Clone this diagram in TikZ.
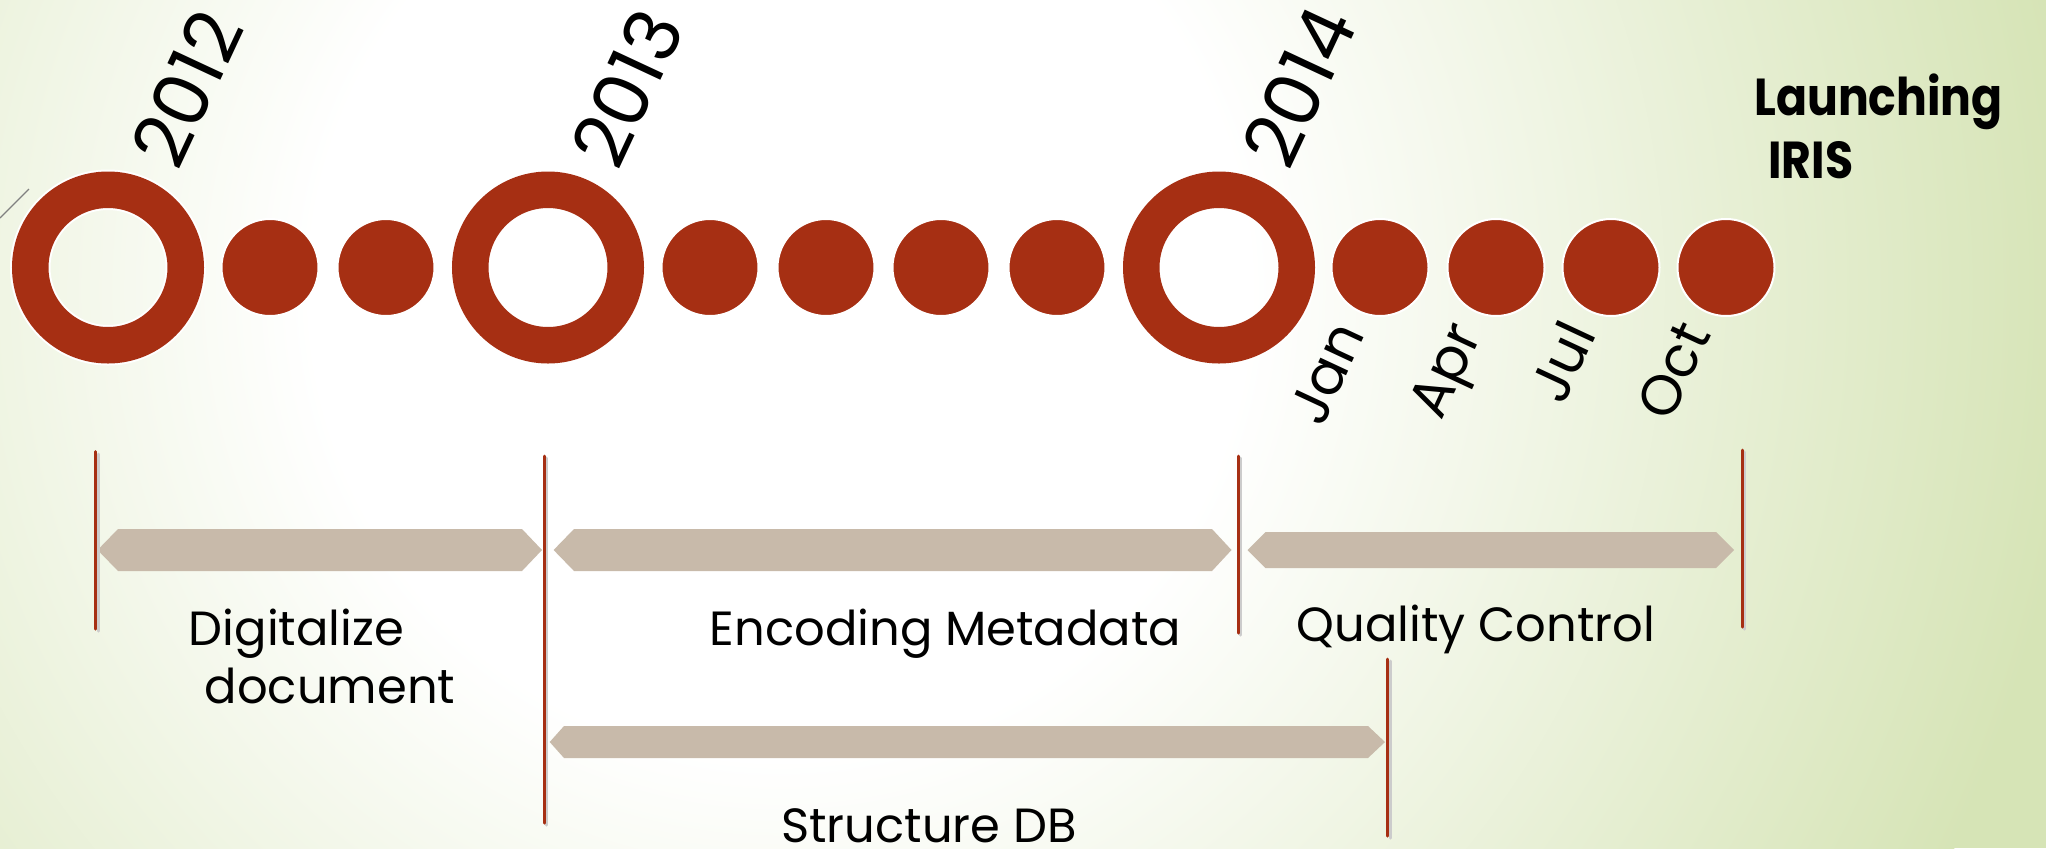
\documentclass[tikz,border=0pt]{standalone}
\usepackage{fontspec}
\setmainfont{Poppins}
\definecolor{ringred}{RGB}{166,47,19}
\definecolor{barcol}{RGB}{200,186,170}
\definecolor{bggreen}{RGB}{214,228,182}
\pgfdeclareradialshading{bgshade}{\pgfpoint{0bp}{0bp}}{color(0bp)=(white); color(9bp)=(white); color(25bp)=(bggreen); color(50bp)=(bggreen)}
\begin{document}
\begin{tikzpicture}[x=0.5pt,y=-0.5pt,
  bigring/.style={circle, draw=white, line width=1pt, double=ringred, double distance=18.25pt, minimum size=77.75pt, inner sep=0pt},
  dot/.style={circle, fill=ringred, draw=white, line width=1pt, minimum size=48.5pt, inner sep=0pt},
  yearlbl/.style={rotate=65, anchor=base west, inner sep=0pt, font=\fontsize{38pt}{44pt}\selectfont},
  monthlbl/.style={rotate=65, anchor=base east, inner sep=0pt, font=\fontsize{28pt}{33pt}\selectfont},
  launch/.style={anchor=base west, inner sep=0pt, xscale=0.88, font=\bfseries\fontsize{26pt}{31pt}\selectfont},
  phase/.style={anchor=base, inner sep=0pt, font=\fontsize{24pt}{29pt}\selectfont},
  vline/.style={draw=ringred, line width=1.5pt, line cap=round},
  vshadow/.style={draw=black!20, line width=1.5pt, line cap=round},
  bar/.style={fill=barcol},
]
\useasboundingbox (0,0) rectangle (2046,848);
\fill[bggreen] (0,0) rectangle (2046,848);
\begin{scope}
\clip (0,0) rectangle (2046,848);
\shade[shading=bgshade] (780,290) circle (650pt);
\end{scope}
\draw[gray, line width=0.6pt] (0,218) -- (29,189);

% timeline circles
\node[bigring] (c1) at (108,267.5) {};
\node[dot] (c2) at (270,267.5) {};
\node[dot] (c3) at (386,267.5) {};
\node[bigring] (c4) at (548,267.5) {};
\node[dot] (c5) at (710,267.5) {};
\node[dot] (c6) at (826,267.5) {};
\node[dot] (c7) at (941,267.5) {};
\node[dot] (c8) at (1057,267.5) {};
\node[bigring] (c9) at (1219,267.5) {};
\node[dot] (c10) at (1380,267.5) {};
\node[dot] (c11) at (1496,267.5) {};
\node[dot] (c12) at (1611,267.5) {};
\node[dot] (c13) at (1726,267.5) {};

% year labels
\node[yearlbl] (y12) at (178,173) {2012};
\node[yearlbl] (y13) at (618,173) {2013};
\node[yearlbl] (y14) at (1289,173) {2014};

% month labels
\node[monthlbl] (mjan) at (1366,334) {Jan};
\node[monthlbl] (mapr) at (1482,334) {Apr};
\node[monthlbl] (mjul) at (1597,334) {Jul};
\node[monthlbl] (moct) at (1712,334) {Oct};

% launching
\node[launch] (la1) at (1754,115) {Launching};
\node[launch] (la2) at (1768,178) {IRIS};

% phase bars
\fill[bar] (97.6,550) -- (118,529) -- (522,529) -- (542,550) -- (522,571) -- (118,571) -- cycle;
\fill[bar] (553.6,550) -- (574,529) -- (1212,529) -- (1231.5,550) -- (1212,571) -- (574,571) -- cycle;
\fill[bar] (1247.5,550) -- (1265.5,532) -- (1716,532) -- (1734,550) -- (1716,568) -- (1265.5,568) -- cycle;
\fill[bar] (549.7,742) -- (564,726) -- (1368,726) -- (1385,742) -- (1368,758) -- (564,758) -- cycle;

% vertical markers
\draw[vshadow] (98,454) -- (98,631);
\draw[vshadow] (546,458) -- (546,825);
\draw[vshadow] (1240,458) -- (1240,635);
\draw[vshadow] (1744,452) -- (1744,629);
\draw[vshadow] (1390,661) -- (1390,838);
\draw[vline] (95.7,451.7) -- (95.7,629);
\draw[vline] (544,456) -- (544,823);
\draw[vline] (1238,456) -- (1238,633);
\draw[vline] (1742,450) -- (1742,627);
\draw[vline] (1387.6,659) -- (1387.6,836);

% phase labels
\node[phase] (p1a) at (296.5,645) {Digitalize};
\node[phase] (p1b) at (330,703) {document};
\node[phase] (p2) at (945.5,645) {Encoding Metadata};
\node[phase] (p3) at (1476,641) {Quality Control};
\node[phase] (p4) at (929,842) {Structure DB};
\end{tikzpicture}
\end{document}
